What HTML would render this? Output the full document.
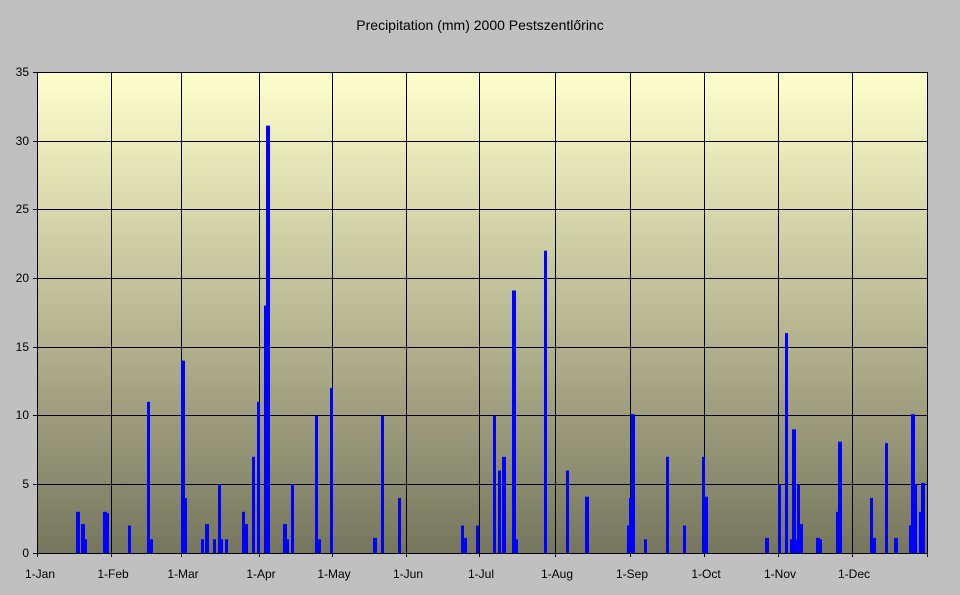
<!DOCTYPE html>
<html><head><meta charset="utf-8"><style>body{margin:0;background:#c0c0c0}svg{display:block}text{font-family:"Liberation Sans",sans-serif;font-size:12px;fill:#000}</style></head><body>
<svg width="960" height="595" xmlns="http://www.w3.org/2000/svg">
<defs><linearGradient id="g" x1="0" y1="0" x2="0" y2="1"><stop offset="0" stop-color="#ffffcc"/><stop offset="1" stop-color="#76765e"/></linearGradient></defs>
<rect width="960" height="595" fill="#c0c0c0"/>
<rect x="37" y="72" width="890" height="481" fill="url(#g)"/>
<g stroke="#000" stroke-width="1">
<line x1="37" y1="72.5" x2="927" y2="72.5"/><line x1="37" y1="141.5" x2="927" y2="141.5"/><line x1="37" y1="209.5" x2="927" y2="209.5"/><line x1="37" y1="278.5" x2="927" y2="278.5"/><line x1="37" y1="347.5" x2="927" y2="347.5"/><line x1="37" y1="415.5" x2="927" y2="415.5"/><line x1="37" y1="484.5" x2="927" y2="484.5"/>
<line x1="111.5" y1="72" x2="111.5" y2="553"/><line x1="181.5" y1="72" x2="181.5" y2="553"/><line x1="259.5" y1="72" x2="259.5" y2="553"/><line x1="332.5" y1="72" x2="332.5" y2="553"/><line x1="406.5" y1="72" x2="406.5" y2="553"/><line x1="479.5" y1="72" x2="479.5" y2="553"/><line x1="555.5" y1="72" x2="555.5" y2="553"/><line x1="630.5" y1="72" x2="630.5" y2="553"/><line x1="704.5" y1="72" x2="704.5" y2="553"/><line x1="778.5" y1="72" x2="778.5" y2="553"/><line x1="852.5" y1="72" x2="852.5" y2="553"/><line x1="927.5" y1="72" x2="927.5" y2="553"/>
<line x1="37.5" y1="72" x2="37.5" y2="557"/>
<line x1="33" y1="72.5" x2="37" y2="72.5"/><line x1="33" y1="141.5" x2="37" y2="141.5"/><line x1="33" y1="209.5" x2="37" y2="209.5"/><line x1="33" y1="278.5" x2="37" y2="278.5"/><line x1="33" y1="347.5" x2="37" y2="347.5"/><line x1="33" y1="415.5" x2="37" y2="415.5"/><line x1="33" y1="484.5" x2="37" y2="484.5"/><line x1="33" y1="553.5" x2="37" y2="553.5"/>
<line x1="111.5" y1="553" x2="111.5" y2="557"/><line x1="181.5" y1="553" x2="181.5" y2="557"/><line x1="259.5" y1="553" x2="259.5" y2="557"/><line x1="332.5" y1="553" x2="332.5" y2="557"/><line x1="406.5" y1="553" x2="406.5" y2="557"/><line x1="479.5" y1="553" x2="479.5" y2="557"/><line x1="555.5" y1="553" x2="555.5" y2="557"/><line x1="630.5" y1="553" x2="630.5" y2="557"/><line x1="704.5" y1="553" x2="704.5" y2="557"/><line x1="778.5" y1="553" x2="778.5" y2="557"/><line x1="852.5" y1="553" x2="852.5" y2="557"/><line x1="927.5" y1="553" x2="927.5" y2="557"/>
</g>
<g fill="#0000ff">
<rect x="76" y="511.8" width="4" height="41.2"/>
<rect x="81" y="524.1" width="4" height="28.9"/>
<rect x="85" y="539.3" width="2" height="13.7"/>
<rect x="103" y="511.8" width="4" height="41.2"/>
<rect x="106" y="513.1" width="3" height="39.9"/>
<rect x="128" y="525.5" width="3" height="27.5"/>
<rect x="147" y="401.8" width="3" height="151.2"/>
<rect x="150" y="539.3" width="3" height="13.7"/>
<rect x="181" y="360.6" width="4" height="192.4"/>
<rect x="185" y="498" width="2" height="55"/>
<rect x="201" y="539.3" width="3" height="13.7"/>
<rect x="205" y="524.1" width="4" height="28.9"/>
<rect x="213" y="539.3" width="3" height="13.7"/>
<rect x="218" y="484.3" width="3" height="68.7"/>
<rect x="221" y="539.3" width="2" height="13.7"/>
<rect x="225" y="539.3" width="3" height="13.7"/>
<rect x="242" y="511.8" width="3" height="41.2"/>
<rect x="245" y="524.1" width="3" height="28.9"/>
<rect x="252" y="456.8" width="3" height="96.2"/>
<rect x="257" y="401.8" width="3" height="151.2"/>
<rect x="264" y="305.6" width="2" height="247.4"/>
<rect x="266" y="125.6" width="4" height="427.4"/>
<rect x="283" y="524.1" width="4" height="28.9"/>
<rect x="287" y="539.3" width="2" height="13.7"/>
<rect x="291" y="484.3" width="3" height="68.7"/>
<rect x="315" y="415.6" width="3" height="137.4"/>
<rect x="318" y="539.3" width="3" height="13.7"/>
<rect x="330" y="388.1" width="3" height="164.9"/>
<rect x="373" y="537.9" width="4" height="15.1"/>
<rect x="381" y="415.6" width="3" height="137.4"/>
<rect x="398" y="498" width="3" height="55"/>
<rect x="461" y="525.5" width="3" height="27.5"/>
<rect x="464" y="537.9" width="3" height="15.1"/>
<rect x="476" y="525.5" width="3" height="27.5"/>
<rect x="493" y="415.6" width="3" height="137.4"/>
<rect x="498" y="470.5" width="3" height="82.5"/>
<rect x="502" y="456.8" width="4" height="96.2"/>
<rect x="512" y="290.5" width="4" height="262.5"/>
<rect x="516" y="539.3" width="2" height="13.7"/>
<rect x="544" y="250.7" width="3" height="302.3"/>
<rect x="566" y="470.5" width="3" height="82.5"/>
<rect x="585" y="496.7" width="4" height="56.3"/>
<rect x="627" y="525.5" width="2" height="27.5"/>
<rect x="629" y="498" width="2" height="55"/>
<rect x="631" y="414.2" width="4" height="138.8"/>
<rect x="644" y="539.3" width="3" height="13.7"/>
<rect x="666" y="456.8" width="3" height="96.2"/>
<rect x="683" y="525.5" width="3" height="27.5"/>
<rect x="702" y="456.8" width="3" height="96.2"/>
<rect x="705" y="496.7" width="3" height="56.3"/>
<rect x="765" y="537.9" width="4" height="15.1"/>
<rect x="778" y="484.3" width="3" height="68.7"/>
<rect x="785" y="333.1" width="3" height="219.9"/>
<rect x="790" y="539.3" width="2" height="13.7"/>
<rect x="792" y="429.3" width="4" height="123.7"/>
<rect x="796" y="539.3" width="1" height="13.7"/>
<rect x="797" y="484.3" width="3" height="68.7"/>
<rect x="800" y="524.1" width="3" height="28.9"/>
<rect x="816" y="537.9" width="4" height="15.1"/>
<rect x="820" y="539.3" width="2" height="13.7"/>
<rect x="836" y="511.8" width="2" height="41.2"/>
<rect x="838" y="441.7" width="4" height="111.3"/>
<rect x="870" y="498" width="3" height="55"/>
<rect x="873" y="537.9" width="3" height="15.1"/>
<rect x="885" y="443.1" width="3" height="109.9"/>
<rect x="894" y="537.9" width="4" height="15.1"/>
<rect x="909" y="525.5" width="2" height="27.5"/>
<rect x="911" y="414.2" width="4" height="138.8"/>
<rect x="915" y="484.3" width="2" height="68.7"/>
<rect x="919" y="511.8" width="2" height="41.2"/>
<rect x="921" y="482.9" width="4" height="70.1"/>
</g>
<line x1="37" y1="553.5" x2="927" y2="553.5" stroke="#000"/>
<g text-anchor="end"><text x="29" y="76">35</text><text x="29" y="145">30</text><text x="29" y="213">25</text><text x="29" y="282">20</text><text x="29" y="351">15</text><text x="29" y="419">10</text><text x="29" y="488">5</text><text x="29" y="557">0</text></g>
<g text-anchor="middle"><text x="40" y="578">1-Jan</text><text x="113" y="578">1-Feb</text><text x="183" y="578">1-Mar</text><text x="261" y="578">1-Apr</text><text x="334" y="578">1-May</text><text x="408" y="578">1-Jun</text><text x="481" y="578">1-Jul</text><text x="557" y="578">1-Aug</text><text x="632" y="578">1-Sep</text><text x="706" y="578">1-Oct</text><text x="780" y="578">1-Nov</text><text x="854" y="578">1-Dec</text></g>
<text x="480" y="30" text-anchor="middle" style="font-size:14px">Precipitation (mm) 2000 Pestszentlőrinc</text>
</svg>
</body></html>
